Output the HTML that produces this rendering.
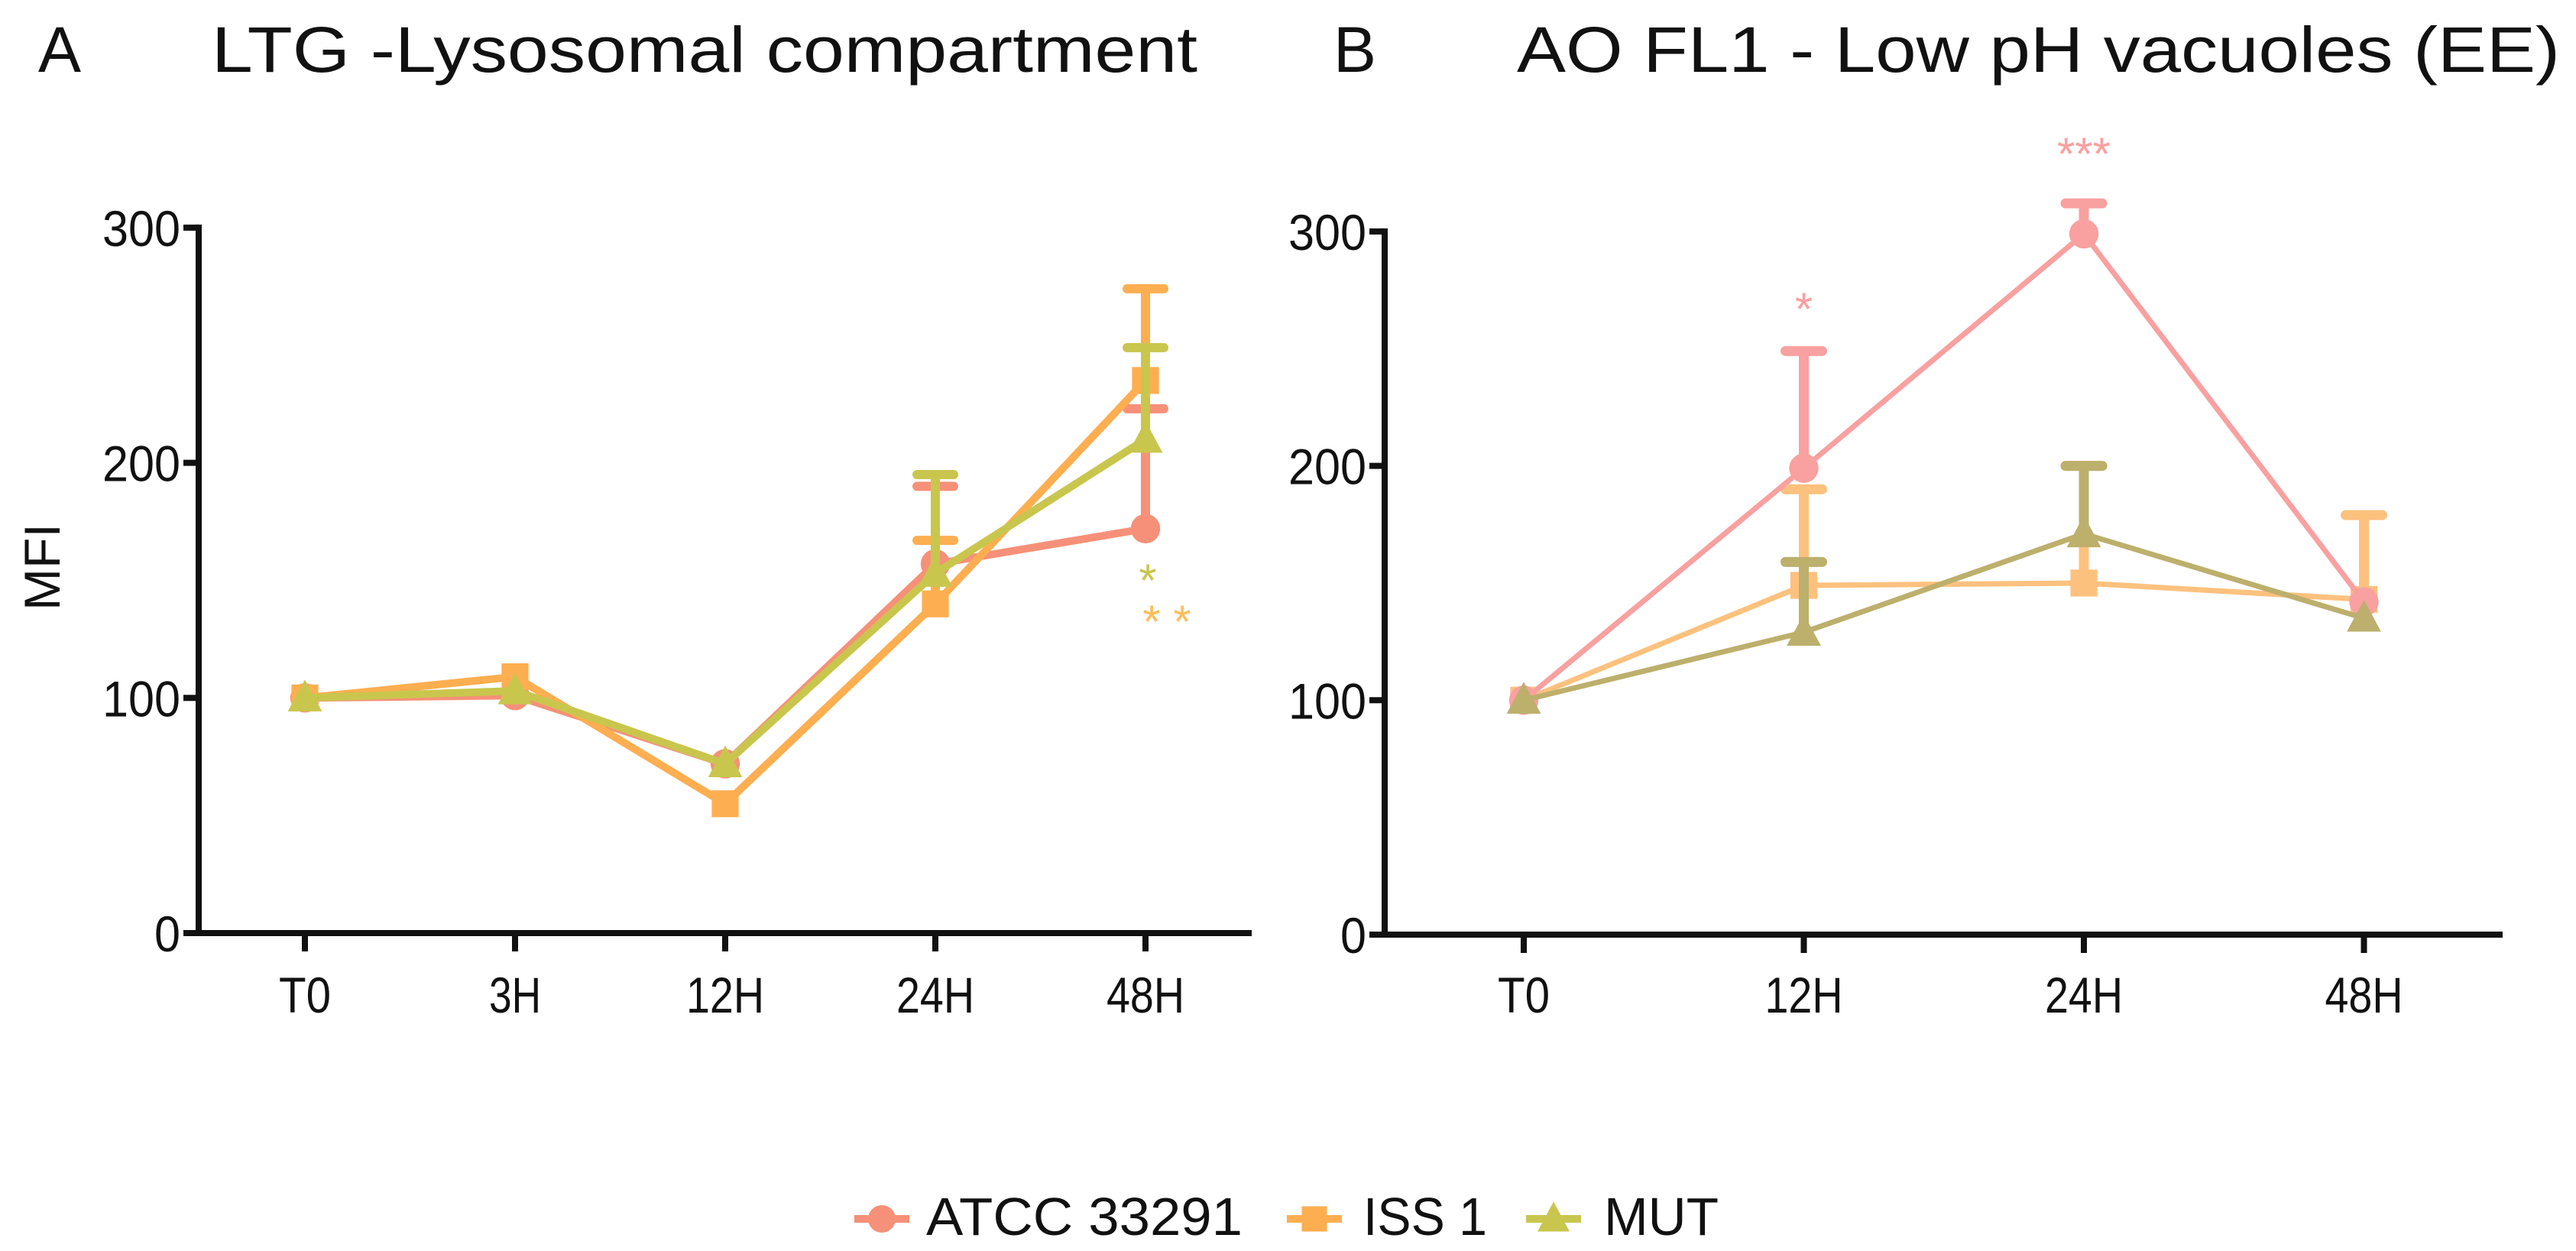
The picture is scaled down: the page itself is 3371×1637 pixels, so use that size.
<!DOCTYPE html>
<html><head><meta charset="utf-8"><style>
html,body{margin:0;padding:0;background:#fff;}
svg{display:block;font-family:"Liberation Sans",Arial,sans-serif;}
</style></head><body>
<svg id="chart" width="3371" height="1637" viewBox="0 0 3371 1637" xmlns="http://www.w3.org/2000/svg">
<g id="gA"></g>
<g id="gB"></g>
<g id="legend"></g>
</svg>
<script>
const NS="http://www.w3.org/2000/svg";
const catsA=["T0","3H","12H","24H","48H"];
const atccA=[100,101,72,157,172];
const atccAErr=[100,101,72,190,223];
const issA=[100,109,55,140,235];
const issAErr=[100,109,55,167,274];
const mutA=[100,103,72,153,210];
const mutAErr=[100,103,72,195,249];
const catsB=["T0","12H","24H","48H"];
const atccB=[100,199,299,142];
const atccBErr=[100,249,312,142];
const issB=[100,149,150,143];
const issBErr=[100,190,200,179];
const mutB=[100,129,171,135];
const mutBErr=[100,159,200,135];
const yTicks=[0,100,200,300];
const legendLabels=["ATCC 33291","ISS 1","MUT"];

function el(tag,attrs,parent,text){const e=document.createElementNS(NS,tag);for(const k in attrs)e.setAttribute(k,attrs[k]);if(text!==undefined)e.textContent=text;parent.appendChild(e);return e;}

function marker(g,type,x,y,color,s){
  let m;
  if(type==="circle")m=el("circle",{cx:x,cy:y,r:s*0.6,fill:color},g);
  else if(type==="square")m=el("rect",{x:x-s*0.55,y:y-s*0.55,width:s*1.1,height:s*1.1,fill:color},g);
  else m=el("polygon",{points:`${x},${y-s*0.75} ${x-s*0.7},${y+s*0.55} ${x+s*0.7},${y+s*0.55}`,fill:color},g);
  return m;
}

function panel(g,cfg){
  const X=i=>cfg.x0+i*cfg.dx;
  const Y=v=>cfg.y0-v*cfg.ky;
  // axes
  let a=el("line",{x1:cfg.axX,y1:Y(300)-4,x2:cfg.axX,y2:cfg.y0+4,stroke:"#111","stroke-width":8},g);
  
  a=el("line",{x1:cfg.axX-20,y1:cfg.y0,x2:cfg.axEnd,y2:cfg.y0,stroke:"#111","stroke-width":8},g);
  
  yTicks.forEach(t=>{
    el("line",{x1:cfg.axX-20,y1:Y(t),x2:cfg.axX,y2:Y(t),stroke:"#111","stroke-width":8},g);
    const tx=el("text",{x:cfg.axX-24,y:Y(t)+24,"text-anchor":"end","font-size":66,fill:"#111","textLength":String(t).length*34,"lengthAdjust":"spacingAndGlyphs"},g,String(t));
    
    
  });
  cfg.cats.forEach((c,i)=>{
    el("line",{x1:X(i),y1:cfg.y0,x2:X(i),y2:cfg.y0+24,stroke:"#111","stroke-width":8},g);
    const tx=el("text",{x:X(i),y:1325,"text-anchor":"middle","font-size":66,fill:"#111","textLength":c.length*34,"lengthAdjust":"spacingAndGlyphs"},g,c);
    
    
  });
  cfg.series.forEach(s=>{
    const sg=el("g",{},g);
    
    
    s.vals.forEach((v,i)=>{
      if(s.err[i]>v+1){
        el("line",{x1:X(i),y1:Y(v),x2:X(i),y2:Y(s.err[i]),stroke:s.color,"stroke-width":cfg.ew},sg);
        el("line",{x1:X(i)-24,y1:Y(s.err[i]),x2:X(i)+24,y2:Y(s.err[i]),stroke:s.color,"stroke-width":cfg.ew,"stroke-linecap":"round"},sg);
      }
    });
    const pl=el("polyline",{points:s.vals.map((v,i)=>X(i)+","+Y(v)).join(" "),fill:"none",stroke:s.color,"stroke-width":cfg.lw,"stroke-linejoin":"round"},sg);
    
    s.vals.forEach((v,i)=>{
      const m=marker(sg,s.type,X(i),Y(v),s.color,32);
      
      
    });
  });
  return {X,Y};
}

const gA=document.getElementById("gA");
const pA=panel(gA,{x0:399,dx:275,y0:1221,ky:3.077,axX:260,axEnd:1638,cats:catsA,lw:10,ew:12,series:[
 {name:"atcc",vals:atccA,err:atccAErr,color:"#F69078",type:"circle"},
 {name:"iss1",vals:issA,err:issAErr,color:"#FDAE50",type:"square"},
 {name:"mut",vals:mutA,err:mutAErr,color:"#C9C64E",type:"triangle"}]});
const gB=document.getElementById("gB");
const pB=panel(gB,{x0:1994,dx:366.5,y0:1223,ky:3.067,axX:1812,axEnd:3275,cats:catsB,lw:7,ew:13,series:[
 {name:"iss1",vals:issB,err:issBErr,color:"#FDC17E",type:"square"},
 {name:"atcc",vals:atccB,err:atccBErr,color:"#F9A0A0",type:"circle"},
 {name:"mut",vals:mutB,err:mutBErr,color:"#BDAF6C",type:"triangle"}]});

function txt(g,x,y,s,size,color,name,anchor,extra){
  const t=el("text",Object.assign({x:x,y:y,"font-size":size,fill:color,"text-anchor":anchor||"start"},extra||{}),g,s);
  
  
  return t;
}
// titles
txt(gA,50,94,"A",84,"#111","panel-a-letter");
txt(gA,277,94,"LTG -Lysosomal compartment",84,"#111","panel-a-title","start",{textLength:1290,lengthAdjust:"spacingAndGlyphs"});
txt(gB,1745,94,"B",84,"#111","panel-b-letter");
txt(gB,1985,94,"AO FL1 - Low pH vacuoles (EE)",84,"#111","panel-b-title","start",{textLength:1365,lengthAdjust:"spacingAndGlyphs"});
txt(gA,78,742,"MFI",66,"#111","y-axis-title","middle",{transform:"rotate(-90 78 742)"});
// significance
txt(gA,1502,780,"*",60,"#C9C64E","sig-mut-48h","middle");
txt(gA,1527,834,"* *",60,"#FDBE5A","sig-iss1-48h","middle");
txt(gB,pB.X(1),425,"*",60,"#F9A0A0","sig-atcc-12h","middle");
txt(gB,pB.X(2),222,"***",60,"#F9A0A0","sig-atcc-24h","middle");

// legend
const lg=document.getElementById("legend");
const lcols=["#F69078","#FDAE50","#C9C64E"],ltypes=["circle","square","triangle"];
const lmx=[1154,1720,2033],ltx=[1212,1784,2099],lw=[414,162,150];
legendLabels.forEach((l,i)=>{
  const eg=el("g",{},lg);
  
  
  el("line",{x1:lmx[i]-36,y1:1595,x2:lmx[i]+36,y2:1595,stroke:lcols[i],"stroke-width":10},eg);
  marker(eg,ltypes[i],lmx[i],1595,lcols[i],30);
  const t=el("text",{x:ltx[i],y:1616,"font-size":70,fill:"#111",textLength:lw[i],lengthAdjust:"spacingAndGlyphs"},eg,l);
  
  
});
</script>
</body></html>
